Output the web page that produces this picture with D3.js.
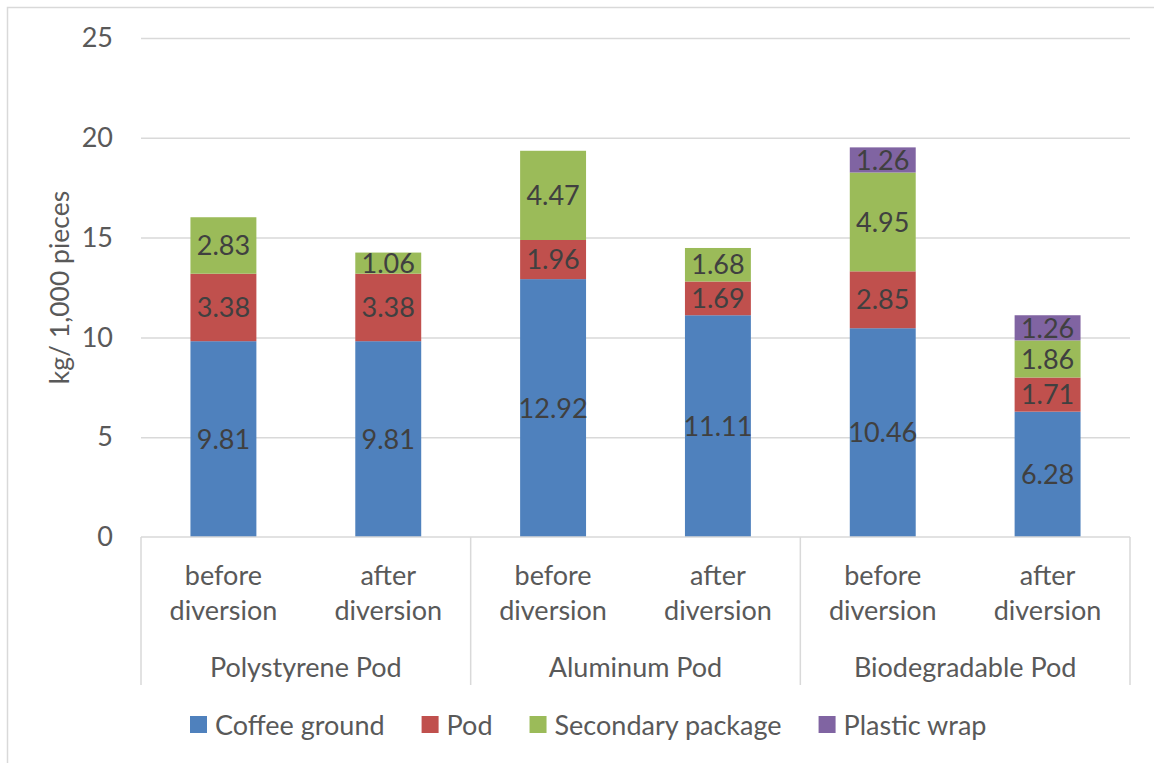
<!DOCTYPE html>
<html>
<head>
<meta charset="utf-8">
<script src="https://cdn.jsdelivr.net/npm/d3@7"></script>
<style>
  html, body { margin: 0; padding: 0; background: #fff; }
  svg { display: block; }
  text { font-family: Lato, "Open Sans", sans-serif; }
</style>
</head>
<body>
<svg id="chart" width="1154" height="763"></svg>
<script>
// Pod types and scenarios
const groups = ["Polystyrene Pod", "Aluminum Pod", "Biodegradable Pod"];
const scenarios = ["before diversion", "after diversion"];
const seriesNames = ["Coffee ground", "Pod", "Secondary package", "Plastic wrap"];
const seriesColors = ["#4F81BD", "#C0504D", "#9BBB59", "#8064A2"];

// kg per 1,000 pieces, one value per bar (order: group × scenario)
const coffeeGround     = [9.81, 9.81, 12.92, 11.11, 10.46, 6.28];
const podMaterial      = [3.38, 3.38, 1.96, 1.69, 2.85, 1.71];
const secondaryPackage = [2.83, 1.06, 4.47, 1.68, 4.95, 1.86];
const plasticWrap      = [0, 0, 0, 0, 1.26, 1.26];

const yTicks = [0, 5, 10, 15, 20, 25];
const yTitle = "kg/ 1,000 pieces";

const seriesValues = [coffeeGround, podMaterial, secondaryPackage, plasticWrap];

const rows = [];
groups.forEach((g, gi) => scenarios.forEach((s, si) => {
  const i = gi * scenarios.length + si;
  const row = { key: g + "|" + s, group: g, scenario: s };
  seriesNames.forEach((n, k) => row[n] = seriesValues[k][i]);
  rows.push(row);
}));

const svg = d3.select("#chart");
const margin = { left: 141, right: 1130, top: 38, bottom: 537 };
const fontSize = 27;

// outer chart frame
svg.append("rect")
  .attr("x", 7.5).attr("y", 7.5).attr("width", 1170).attr("height", 780)
  .attr("fill", "none").attr("stroke", "#d9d9d9").attr("stroke-width", 1.5);

const x = d3.scaleBand()
  .domain(rows.map(r => r.key))
  .range([margin.left, margin.right])
  .paddingInner(0.6).paddingOuter(0.3);

const y = d3.scaleLinear().domain([0, 25]).range([margin.bottom, margin.top]);

// gridlines + y tick labels
const yAxis = d3.axisLeft(y).tickValues(yTicks).tickSize(-(margin.right - margin.left)).tickPadding(28);
const yg = svg.append("g").attr("transform", `translate(${margin.left},0)`).call(yAxis);
yg.select(".domain").remove();
yg.selectAll(".tick line").attr("stroke", "#d9d9d9").attr("stroke-width", 1.5)
  .filter(d => d === 0).remove();
yg.selectAll(".tick text").attr("fill", "#595959").attr("font-size", fontSize)
  .attr("font-family", "Lato, sans-serif");

// y axis title
svg.append("text")
  .attr("transform", `translate(60,${(margin.top + margin.bottom) / 2}) rotate(-90)`)
  .attr("text-anchor", "middle").attr("dy", "0.35em")
  .attr("fill", "#595959").attr("font-size", 26.5)
  .text(yTitle);

// stacked bars
const stack = d3.stack().keys(seriesNames);
const layers = stack(rows);

const layerG = svg.append("g").selectAll("g").data(layers).join("g")
  .attr("fill", (d, i) => seriesColors[i]);

layerG.selectAll("rect").data(d => d.filter(p => p[1] - p[0] > 0)).join("rect")
  .attr("x", d => x(d.data.key))
  .attr("width", x.bandwidth())
  .attr("y", d => y(d[1]))
  .attr("height", d => y(d[0]) - y(d[1]));

// data labels
layerG.selectAll("text").data(d => d.filter(p => p[1] - p[0] > 0)).join("text")
  .attr("x", d => x(d.data.key) + x.bandwidth() / 2)
  .attr("y", d => y((d[0] + d[1]) / 2))
  .attr("dy", "0.36em")
  .attr("text-anchor", "middle")
  .attr("fill", "#404040").attr("font-size", fontSize)
  .text(d => (d[1] - d[0]).toFixed(2));

// category axis: baseline + group separators
const axisColor = "#d9d9d9";
svg.append("line")
  .attr("x1", margin.left).attr("x2", margin.right)
  .attr("y1", margin.bottom).attr("y2", margin.bottom)
  .attr("stroke", axisColor).attr("stroke-width", 1.5);

const groupW = (margin.right - margin.left) / groups.length;
d3.range(groups.length + 1).forEach(i => {
  const gx = margin.left + i * groupW;
  svg.append("line")
    .attr("x1", gx).attr("x2", gx)
    .attr("y1", margin.bottom).attr("y2", 685)
    .attr("stroke", axisColor).attr("stroke-width", 1.5);
});

// scenario labels (two lines)
rows.forEach(r => {
  const words = r.scenario.split(" ");
  const t = svg.append("text")
    .attr("text-anchor", "middle").attr("fill", "#595959").attr("font-size", fontSize);
  words.forEach((w, wi) => {
    t.append("tspan")
      .attr("x", x(r.key) + x.bandwidth() / 2)
      .attr("y", 575 + wi * 35)
      .attr("dy", "0.36em")
      .text(w);
  });
});

// group labels
groups.forEach((g, gi) => {
  svg.append("text")
    .attr("x", margin.left + (gi + 0.5) * groupW)
    .attr("y", 667).attr("dy", "0.36em")
    .attr("text-anchor", "middle").attr("fill", "#595959").attr("font-size", fontSize)
    .text(g);
});

// legend
const legend = svg.append("g");
let lx = 190;
seriesNames.forEach((n, i) => {
  legend.append("rect")
    .attr("x", lx).attr("y", 716).attr("width", 17).attr("height", 17)
    .attr("fill", seriesColors[i]);
  const t = legend.append("text")
    .attr("x", lx + 25).attr("y", 725).attr("dy", "0.36em")
    .attr("fill", "#595959").attr("font-size", fontSize)
    .text(n);
  lx += 25 + t.node().getComputedTextLength() + 37;
});
</script>
</body>
</html>
